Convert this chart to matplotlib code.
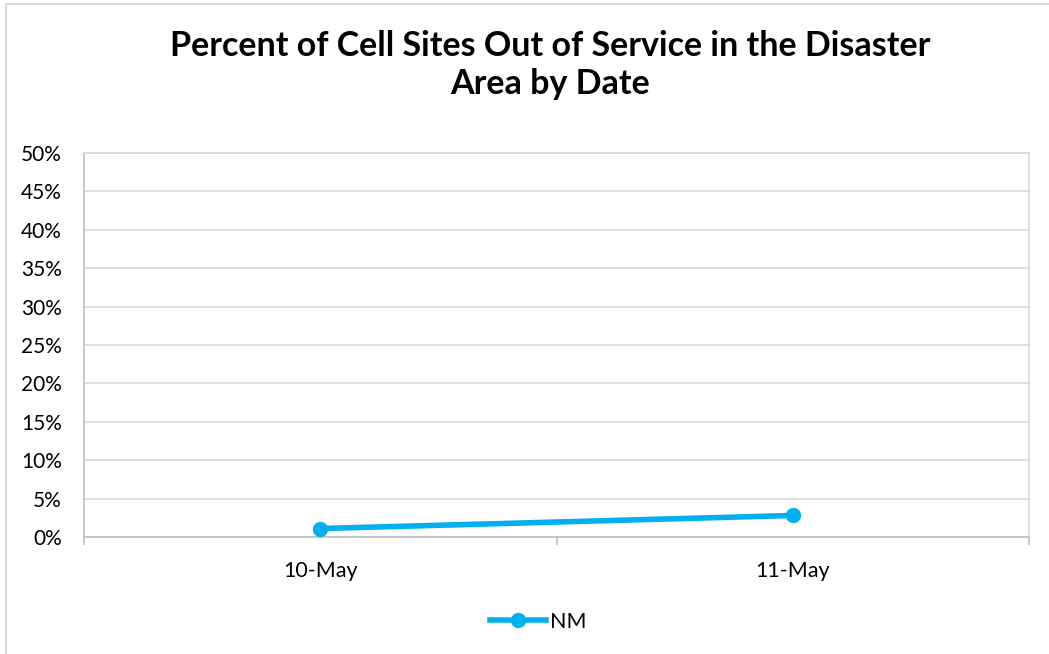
import matplotlib
matplotlib.use("Agg")
import matplotlib.pyplot as plt
from matplotlib.lines import Line2D
from matplotlib.patches import Rectangle

dates = ["10-May", "11-May"]
nm_values = [1.1, 2.8]
y_ticks = [0, 5, 10, 15, 20, 25, 30, 35, 40, 45, 50]

plt.rcParams['font.family'] = ['Lato', 'DejaVu Sans']

W, H = 1049, 654
fig = plt.figure(figsize=(W/100, H/100), dpi=100)

# outer border
fig.patches.append(Rectangle((6/W, -0.01), 1.1, (H-4)/H + 0.01, transform=fig.transFigure,
                             fill=False, edgecolor='#d9d9d9', linewidth=1.5))

ax = fig.add_axes([84/W, (H-537)/H, 945/W, 384/H])
x = list(range(len(dates)))
color = '#00b0f0'
ax.plot(x, nm_values, color=color, linewidth=4, marker='o', markersize=10,
        solid_capstyle='round', label='NM', zorder=3)

ax.set_xlim(-0.5, len(dates) - 0.5)
ax.set_ylim(0, 50)
ax.set_yticks(y_ticks)
ax.set_yticklabels([f"{v}%" for v in y_ticks], fontsize=15)
ax.yaxis.grid(True, color='#d9d9d9', linewidth=1.2)
ax.set_axisbelow(True)
ax.tick_params(axis='y', length=0, pad=16)

ax.set_xticks([i - 0.5 for i in range(len(dates) + 1)])
ax.set_xticklabels([])
ax.set_xticks(x, minor=True)
ax.set_xticklabels(dates, minor=True, fontsize=15.5)
ax.tick_params(axis='x', which='major', length=6, color='#bfbfbf', width=1.2)
ax.tick_params(axis='x', which='minor', length=0, pad=17)

for s in ['top', 'right']:
    ax.spines[s].set_color('#d9d9d9')
    ax.spines[s].set_linewidth(1.2)
for s in ['left', 'bottom']:
    ax.spines[s].set_color('#bfbfbf')
    ax.spines[s].set_linewidth(1.2)

fig.text(550/W, 1 - 65/H, "Percent of Cell Sites Out of Service in the Disaster\nArea by Date",
         ha='center', va='center', fontsize=24.5, fontweight='bold', linespacing=1.2)

handle = Line2D([], [], color=color, linewidth=4, marker='o', markersize=10)
fig.legend([handle], ['NM'], loc='center', bbox_to_anchor=(538/W, 1 - 622/H),
           frameon=False, fontsize=15.5, handlelength=2.6, handletextpad=0.2)

fig.savefig("out.png", dpi=100)
